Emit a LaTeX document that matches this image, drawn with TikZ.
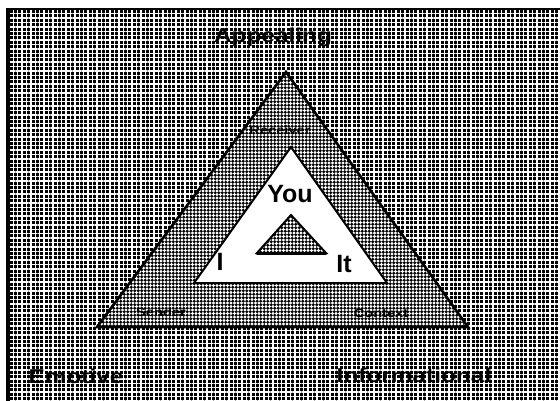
\documentclass[tikz,border=0pt]{standalone}
\usepackage{fontspec}
\setmainfont{Liberation Sans}
\usetikzlibrary{patterns.meta}
\tikzset{
  biglabel/.style={font=\bfseries\fontsize{20}{24}\selectfont, inner sep=0pt, anchor=base},
  midlabel/.style={font=\bfseries\fontsize{25}{30}\selectfont, inner sep=0pt, anchor=base},
  smalllabel/.style={font=\bfseries\fontsize{12}{14}\selectfont, inner sep=0pt, anchor=base},
  gridfill/.style={pattern={Hatch[angle=0,distance=4.4pt,line width=1.4pt]}, pattern color=white},
  dotfill/.style={pattern={Dots[radius=1.55pt,distance=3.5pt]}, pattern color=white},
  edgeline/.style={line width=2.6pt, line join=miter},
  inedge/.style={line width=2pt, line join=miter},
}
\newcommand{\wide}[1]{\scalebox{1.22}[1]{#1}}
\begin{document}
\begin{tikzpicture}[x=1pt,y=-1pt]
\useasboundingbox (0,0) rectangle (560,401);
\fill[white] (0,0) rectangle (560,401);
% frame with grid background
\fill[black] (6,8) rectangle (562,403);
\fill[gridfill] (10,11) rectangle (562,403);
% outer triangle
\coordinate (oA) at (286,72);
\coordinate (oL) at (97,327);
\coordinate (oR) at (468,327);
\fill[black] (oA) -- (oL) -- (oR) -- cycle;
\fill[dotfill] (oA) -- (oL) -- (oR) -- cycle;
\draw[edgeline] (oA) -- (oL) -- (oR) -- cycle;
% white triangle
\coordinate (wA) at (291,147);
\coordinate (wL) at (194,283);
\coordinate (wR) at (387,283);
\filldraw[fill=white, inedge] (wA) -- (wL) -- (wR) -- cycle;
% small triangle
\coordinate (sA) at (291,215);
\coordinate (sL) at (257,253);
\coordinate (sR) at (326,253);
\fill[black] (sA) -- (sL) -- (sR) -- cycle;
\fill[dotfill] (sA) -- (sL) -- (sR) -- cycle;
\draw[inedge] (sA) -- (sL) -- (sR) -- cycle;
\draw[line width=3pt, line cap=round] (sL) -- (sR);
% labels
\node[biglabel] (appealing) at (273,43) {\wide{Appealing}};
\node[biglabel] (emotive) at (76,383) {\wide{Emotive}};
\node[biglabel] (informational) at (414,382) {\wide{Informational}};
\node[smalllabel] (receiver) at (280,135) {\wide{Receiver}};
\node[smalllabel] (sender) at (161,316) {\wide{Sender}};
\node[smalllabel] (context) at (381,317) {\wide{Context}};
\node[midlabel] (you) at (290,203) {You};
\node[midlabel] (i) at (220,270) {I};
\node[midlabel] (it) at (344,272) {It};
\end{tikzpicture}
\end{document}
